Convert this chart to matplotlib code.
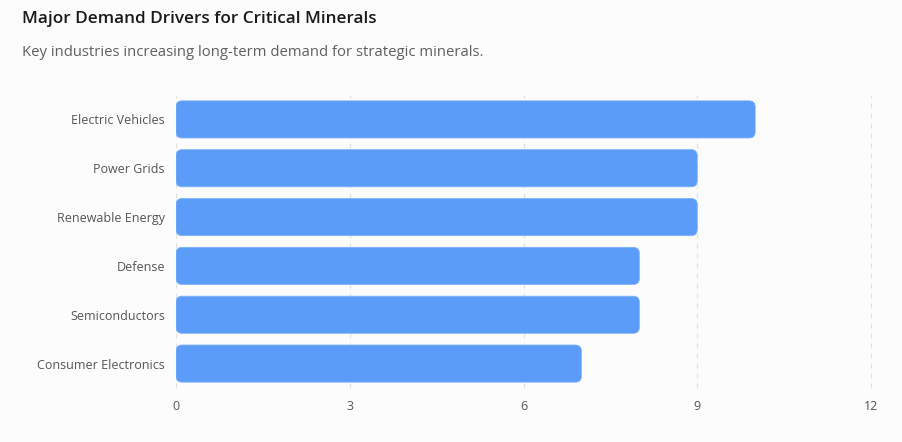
import matplotlib.pyplot as plt
from matplotlib.patches import FancyBboxPatch

plt.rcParams['font.family'] = ['Open Sans', 'DejaVu Sans']

categories = ["Electric Vehicles", "Power Grids", "Renewable Energy",
              "Defense", "Semiconductors", "Consumer Electronics"]
values = [10, 9, 9, 8, 8, 7]
x_ticks = [0, 3, 6, 9, 12]

W, H = 903, 442
fig = plt.figure(figsize=(W / 100, H / 100), dpi=100)
fig.patch.set_facecolor('#fcfcfc')
ax = fig.add_axes([176 / W, 1 - 388 / H, (871 - 176) / W, (388 - 95) / H])
ax.set_facecolor('#fcfcfc')

ypos = list(range(len(categories)))
bars = ax.barh(ypos, values, height=0.76, color='none')
ax.set_xlim(0, 12)
ax.set_ylim(len(categories) - 0.5, -0.5)

# swap plain bars for rounded ones
px_x = (871 - 176) / 12
px_y = (388 - 95) / len(categories)
r = 6
for b in bars:
    x0, y0 = b.get_x(), b.get_y()
    w, h = b.get_width(), b.get_height()
    rx = r / px_x
    aspect = (r / px_y) / rx
    p = FancyBboxPatch((x0 + rx, y0 + rx * aspect), w - 2 * rx, h - 2 * rx * aspect,
                       boxstyle=f"round,pad={rx},rounding_size={rx}",
                       mutation_aspect=aspect,
                       facecolor='#5a9cf8', edgecolor='#7fb2fa', linewidth=0.6, zorder=3)
    ax.add_patch(p)
    b.remove()

ax.set_xticks(x_ticks)
ax.set_xticklabels([str(t) for t in x_ticks])
ax.set_yticks(ypos)
ax.set_yticklabels(categories)
ax.tick_params(axis='both', length=0, labelsize=9, labelcolor='#555555')
ax.tick_params(axis='y', pad=8)
ax.tick_params(axis='x', pad=9)
ax.grid(axis='x', color='#e2e2e2', linestyle=(0, (4, 4)), linewidth=0.9, zorder=0)
for gl in ax.get_xgridlines():
    gl.set_clip_on(False)
ax.set_axisbelow(True)
for s in ax.spines.values():
    s.set_visible(False)

fig.text(22 / W, 1 - 19 / H, "Major Demand Drivers for Critical Minerals",
         fontsize=12.3, fontweight='semibold', color='#1a1a1a', va='center', ha='left')
fig.text(22 / W, 1 - 52 / H, "Key industries increasing long-term demand for strategic minerals.",
         fontsize=10.75, color='#606060', va='center', ha='left')

fig.savefig('out.png', dpi=100, facecolor=fig.get_facecolor())
